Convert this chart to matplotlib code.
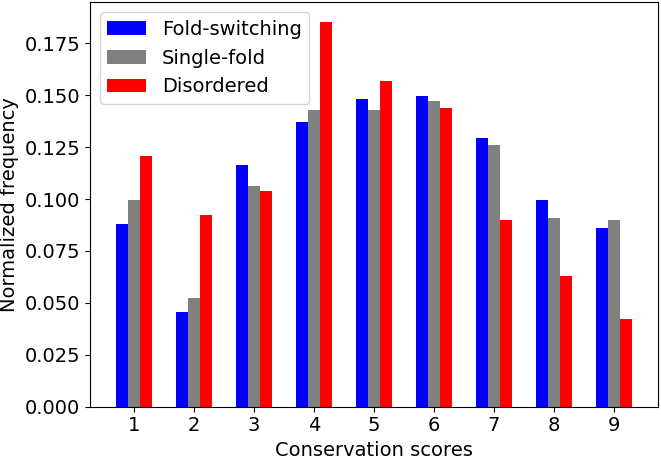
import numpy as np
import matplotlib
matplotlib.use("Agg")
import matplotlib.pyplot as plt

scores = [1, 2, 3, 4, 5, 6, 7, 8, 9]
fold_switching = [0.088, 0.0455, 0.1165, 0.137, 0.148, 0.1495, 0.1295, 0.0995, 0.086]
single_fold = [0.0995, 0.0525, 0.1063, 0.143, 0.143, 0.147, 0.126, 0.091, 0.090]
disordered = [0.1205, 0.0925, 0.104, 0.1855, 0.157, 0.144, 0.090, 0.063, 0.042]

plt.rcParams['font.size'] = 14

fig = plt.figure(figsize=(6.61, 4.59), dpi=100)
ax = fig.add_axes([0.136, 0.114, 0.859, 0.881])

x = np.array(scores)
w = 0.2
ax.bar(x - w, fold_switching, w, color='blue', label='Fold-switching')
ax.bar(x, single_fold, w, color='gray', label='Single-fold')
ax.bar(x + w, disordered, w, color='red', label='Disordered')

ax.set_xticks(scores)
ax.set_xlabel('Conservation scores')
ax.set_ylabel('Normalized frequency')
ax.legend(loc='upper left')

fig.savefig('out.png', dpi=100)
